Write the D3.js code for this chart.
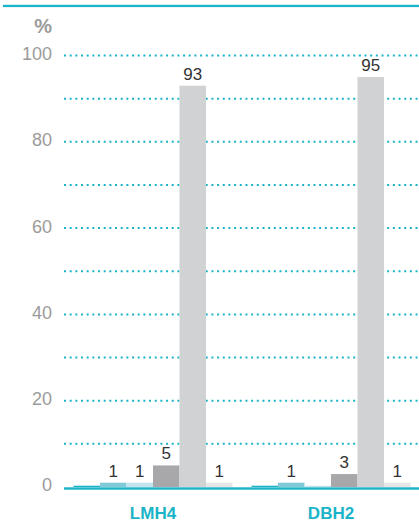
<!DOCTYPE html>
<html>
<head>
<meta charset="utf-8">
<script src="https://cdn.jsdelivr.net/npm/d3@7/dist/d3.min.js"></script>
<style>
  html, body { margin: 0; padding: 0; background: #fff; }
  svg { display: block; font-family: "Liberation Sans", Arial, sans-serif; }
</style>
</head>
<body>
<svg id="chart" width="419" height="523"></svg>
<script>
// Groups along the x axis
const categories = ["LMH4", "DBH2"];

// Six series per group, in drawing order (values in %)
const series1 = [0.3, 0.3];
const series2 = [1, 1];
const series3 = [1, 0.3];
const series4 = [5, 3];
const series5 = [93, 95];
const series6 = [1, 1];

const seriesColors = ["#1ab4c8", "#80cad8", "#c0e4ec", "#a8a8aa", "#d1d2d4", "#e6e6e7"];

// Y axis labels and gridline steps
const yTickLabels = [0, 20, 40, 60, 80, 100];
const yGridValues = [10, 20, 30, 40, 50, 60, 70, 80, 90, 100];

const allSeries = [series1, series2, series3, series4, series5, series6];
const teal = "#1ab4c8";

const svg = d3.select("#chart");
const W = 419;
const plotLeft = 64, plotRight = 420;

const y = d3.scaleLinear().domain([0, 100]).range([487, 55.5]);

const x0 = d3.scaleBand()
  .domain(categories)
  .range([plotLeft, plotRight])
  .paddingInner(0.107)
  .paddingOuter(0.0535);

const x1 = d3.scaleBand()
  .domain(d3.range(allSeries.length))
  .range([0, x0.bandwidth()])
  .padding(0);

// Top rule
svg.append("rect")
  .attr("x", 3).attr("y", 4.8)
  .attr("width", W - 3).attr("height", 2.3)
  .attr("fill", teal);

// Dotted gridlines
svg.append("g")
  .selectAll("line")
  .data(yGridValues)
  .join("line")
  .attr("x1", plotLeft).attr("x2", W)
  .attr("y1", d => y(d)).attr("y2", d => y(d))
  .attr("stroke", teal)
  .attr("stroke-width", 2)
  .attr("stroke-dasharray", "2 3.67");

// Y axis tick labels (via d3 axis, with domain and tick marks hidden)
const yAxis = d3.axisLeft(y).tickValues(yTickLabels).tickSize(0).tickPadding(0).tickFormat(d3.format("d"));
const gy = svg.append("g")
  .attr("transform", "translate(52,0)")
  .call(yAxis);
gy.select(".domain").remove();
gy.selectAll("text")
  .attr("fill", "#9b9b9b")
  .attr("font-size", 18)
  .attr("font-family", "Liberation Sans, Arial, sans-serif")
  .attr("dy", "0.22em");

// Unit label
svg.append("text")
  .attr("x", 52).attr("y", 33)
  .attr("text-anchor", "end")
  .attr("fill", "#9b9b9b")
  .attr("font-size", 20)
  .attr("font-weight", "bold")
  .text("%");

// Bars
const groups = svg.append("g")
  .selectAll("g")
  .data(categories)
  .join("g")
  .attr("transform", d => `translate(${x0(d)},0)`);

const barData = (cat, ci) => allSeries.map((s, si) => ({ si, value: s[ci] }));

groups.selectAll("rect")
  .data((d, ci) => barData(d, ci))
  .join("rect")
  .attr("x", d => x1(d.si))
  .attr("y", d => y(d.value))
  .attr("width", x1.bandwidth())
  .attr("height", d => y(0) - y(d.value))
  .attr("fill", d => seriesColors[d.si]);

// Value labels
groups.selectAll("text.val")
  .data((d, ci) => barData(d, ci).filter(b => b.value >= 0.5))
  .join("text")
  .attr("class", "val")
  .attr("x", d => x1(d.si) + x1.bandwidth() / 2)
  .attr("y", d => y(d.value) - 6)
  .attr("text-anchor", "middle")
  .attr("fill", "#333")
  .attr("font-size", 17)
  .text(d => d3.format("d")(d.value));

// Baseline
svg.append("rect")
  .attr("x", plotLeft).attr("y", y(0) + 0.3)
  .attr("width", W - plotLeft).attr("height", 2.4)
  .attr("fill", teal);

// Category labels
const xAxis = d3.axisBottom(x0).tickSize(0).tickPadding(0);
const gx = svg.append("g")
  .attr("transform", "translate(0,519)")
  .call(xAxis);
gx.select(".domain").remove();
gx.selectAll("text")
  .attr("fill", teal)
  .attr("font-size", 17)
  .attr("font-weight", "bold")
  .attr("font-family", "Liberation Sans, Arial, sans-serif")
  .attr("dy", "0");
</script>
</body>
</html>
